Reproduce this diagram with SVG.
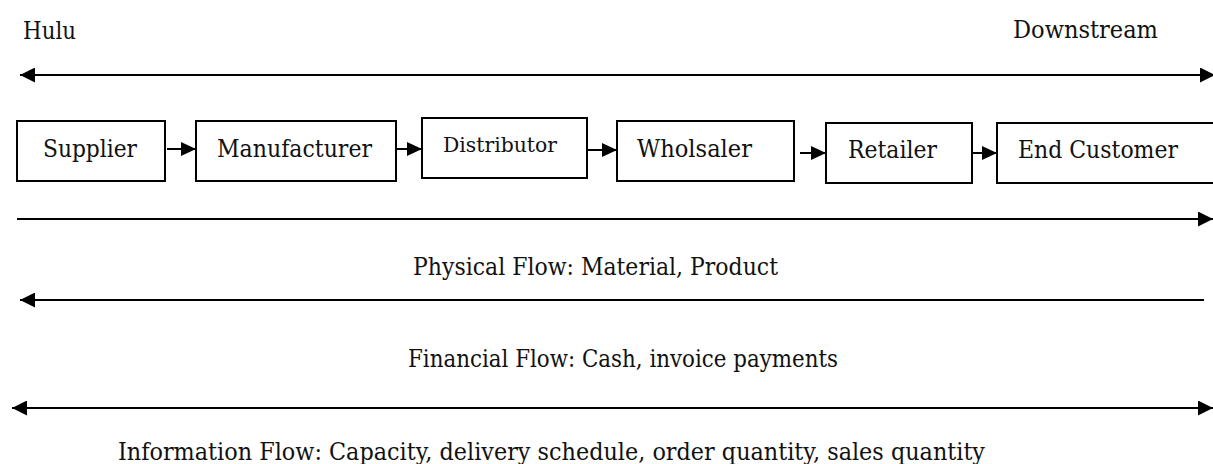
<svg xmlns="http://www.w3.org/2000/svg" width="1213" height="464" viewBox="0 0 1213 464">
<style>
  .box { fill: #ffffff; stroke: #000000; stroke-width: 2; }
  .lbl { font-family: "DejaVu Serif", "Liberation Serif", serif; font-size: 24px; fill: #111111; }
  .small { font-size: 21px; }
  .flow { stroke: #000000; stroke-width: 2; fill: none; }
  .conn { stroke: #000000; stroke-width: 2; fill: none; marker-end: url(#sh); }
</style>
<defs>
  <marker id="bh" markerUnits="userSpaceOnUse" markerWidth="15" markerHeight="15" refX="15" refY="7.5" orient="auto-start-reverse">
    <path d="M0,0 L15,7.5 L0,15 Z" fill="#000000"/>
  </marker>
  <marker id="sh" markerUnits="userSpaceOnUse" markerWidth="15" markerHeight="14" refX="15" refY="7" orient="auto">
    <path d="M0,0 L15,7 L0,14 Z" fill="#000000"/>
  </marker>
</defs>
<rect x="0" y="0" width="1213" height="464" fill="#ffffff"/>

<g id="labels-top">
  <text class="lbl" x="23" y="39" textLength="53" lengthAdjust="spacingAndGlyphs">Hulu</text>
  <text class="lbl" x="1013" y="38" textLength="145" lengthAdjust="spacingAndGlyphs">Downstream</text>
</g>

<g id="node-supplier">
  <rect class="box" x="17" y="121" width="148" height="60"/>
  <text class="lbl" x="43" y="157" textLength="94" lengthAdjust="spacingAndGlyphs">Supplier</text>
</g>
<g id="node-manufacturer">
  <rect class="box" x="196" y="121" width="200" height="60"/>
  <text class="lbl" x="217" y="157" textLength="155" lengthAdjust="spacingAndGlyphs">Manufacturer</text>
</g>
<g id="node-distributor">
  <rect class="box" x="422" y="118" width="165" height="60"/>
  <text class="lbl small" x="443" y="152" textLength="114" lengthAdjust="spacingAndGlyphs">Distributor</text>
</g>
<g id="node-wholsaler">
  <rect class="box" x="617" y="121" width="177" height="60"/>
  <text class="lbl" x="637" y="157" textLength="115" lengthAdjust="spacingAndGlyphs">Wholsaler</text>
</g>
<g id="node-retailer">
  <rect class="box" x="826" y="123" width="146" height="60"/>
  <text class="lbl" x="848" y="158" textLength="89" lengthAdjust="spacingAndGlyphs">Retailer</text>
</g>
<g id="node-endcustomer">
  <rect class="box" x="997" y="123" width="240" height="60"/>
  <text class="lbl" x="1018" y="158" textLength="160" lengthAdjust="spacingAndGlyphs">End Customer</text>
</g>

<g id="connectors">
  <line class="conn" x1="167" y1="149" x2="196" y2="149"/>
  <line class="conn" x1="397" y1="149" x2="422" y2="149"/>
  <line class="conn" x1="588" y1="150" x2="617" y2="150"/>
  <line class="conn" x1="800" y1="153" x2="826" y2="153"/>
  <line class="conn" x1="972" y1="153" x2="997" y2="153"/>

  <line class="flow" x1="20" y1="75" x2="1215" y2="75" marker-start="url(#bh)" marker-end="url(#bh)"/>
  <line class="flow" x1="17" y1="219" x2="1213" y2="219" marker-end="url(#bh)"/>
  <line class="flow" x1="20" y1="300" x2="1204" y2="300" marker-start="url(#bh)"/>
  <line class="flow" x1="12" y1="408" x2="1213" y2="408" marker-start="url(#bh)" marker-end="url(#bh)"/>
</g>

<g id="flow-labels">
  <text class="lbl" x="413" y="275" textLength="365" lengthAdjust="spacingAndGlyphs">Physical Flow: Material, Product</text>
  <text class="lbl" x="408" y="367" textLength="430" lengthAdjust="spacingAndGlyphs">Financial Flow: Cash, invoice payments</text>
  <text class="lbl" x="118" y="460" textLength="867" lengthAdjust="spacingAndGlyphs">Information Flow: Capacity, delivery schedule, order quantity, sales quantity</text>
</g>
</svg>
